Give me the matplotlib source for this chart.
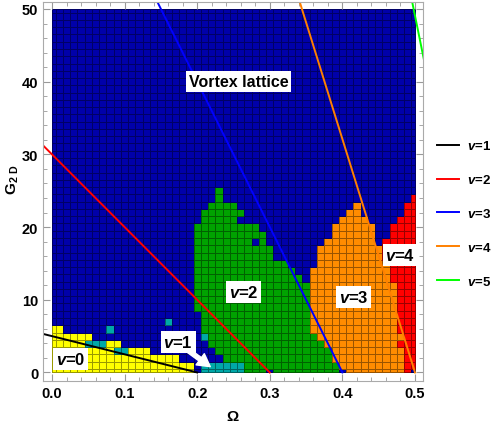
import numpy as np
import matplotlib.pyplot as plt
from matplotlib.colors import ListedColormap
from matplotlib.lines import Line2D

plt.rcParams['font.family'] = ['Liberation Sans', 'DejaVu Sans']
plt.rcParams['font.weight'] = 'bold'
plt.rcParams['mathtext.fontset'] = 'custom'
plt.rcParams['mathtext.rm'] = 'Liberation Sans:bold'
plt.rcParams['mathtext.bf'] = 'Liberation Sans:bold'
plt.rcParams['mathtext.it'] = 'Liberation Sans:bold:italic'

# grid of the scan
omega = np.round(np.arange(51) * 0.01, 2)
g2d = np.arange(51)

# phase at each grid point, rows G=0..25 (bottom up); everything above is vortex lattice
# B=vortex lattice, Y=v0, C=v1, G=v2, O=v3, R=v4
phase_rows = [
    "Y0-19 B20 C21-26 G27-29 B30 G31-39 B40 O41-48 R49 B50",
    "Y0-19 C21-26 G27-39 O40-48 R49-50",
    "Y0-17 G24-38 O39-48 R49-50",
    "Y0-8 C9-10 Y11-13 G23-38 O39-48 R49-50",
    "Y0-4 C5-7 Y8-9 G22-37 O38-47 R48-50",
    "Y0-5 C21 G22-36 O37-48 R49-50",
    "Y0-1 C8 G21-35 O36-47 R48-50",
    "C16 G21-35 O36-47 R48-50",
    "G21-35 O36-47 R48-50",
    "G20-35 O36-47 R48-50",
    "G20-35 O36-47 R48-50",
    "G20-35 O36-47 R48-50",
    "G20-35 O36-47 R48-50",
    "G20-34 O36-46 R47-50",
    "G20-33 O36-46 R47-50",
    "G20-32 O37-46 R47-50",
    "G20-30 O37-45 R46-50",
    "G20-30 O37-45 R46-50",
    "G20-27 G29 O38-44 R46-50",
    "G20-29 O39-44 R47-50",
    "G20-28 O39-44 R47-50",
    "G21-25 O40-43 R48-50",
    "G21-26 O41-42 R49-50",
    "G22-25 O42 R49-50",
    "G23 R50",
    "G23",
]
phase_codes = {'B': 0, 'Y': 1, 'C': 2, 'G': 3, 'O': 4, 'R': 5}
phase_colors = ['#0000AA', '#FFFF00', '#00A8A8', '#00A200', '#FF8C00', '#FF0000']

# critical lines for v=1..5, two end points each
line_labels = ['1', '2', '3', '4', '5']
line_colors = ['black', '#FF0000', '#0000FF', '#FF8000', '#00FF00']
line_omega = [[-0.02, 0.2], [-0.02, 0.3], [0.14, 0.4], [0.338, 0.5], [0.494, 0.6]]
line_g = [[5.5, 0], [32, 0], [52, 0], [52, 0], [52, 0]]

# text labels in the plot
region_text = ['Vortex lattice', '$v$=0', '$v$=1', '$v$=2', '$v$=3', '$v$=4']
region_omega = [0.257, 0.0255, 0.174, 0.264, 0.415, 0.48]
region_g = [40.0, 1.9, 4.2, 11.1, 10.4, 16.2]

phase = np.zeros((len(g2d), len(omega)), dtype=int)
for j, spec in enumerate(phase_rows):
    for seg in spec.split():
        a, _, b = seg[1:].partition('-')
        phase[j, int(a):int(b or a) + 1] = phase_codes[seg[0]]

dx = omega[1] - omega[0]
xe = np.clip(np.concatenate([omega - dx / 2, [omega[-1] + dx / 2]]), omega[0], omega[-1])
ye = np.clip(np.concatenate([g2d - 0.5, [g2d[-1] + 0.5]]), g2d[0], g2d[-1])

fig = plt.figure(figsize=(4.98, 4.27), dpi=100)
ax = fig.add_axes([43 / 498, 45 / 427, 380 / 498, 379 / 427])
ax.pcolormesh(xe, ye, phase, cmap=ListedColormap(phase_colors), vmin=-0.5, vmax=5.5,
              edgecolors=(0, 0, 0, 0.4), linewidth=0.5)

handles = []
for k in range(len(line_labels)):
    ax.plot(line_omega[k], line_g[k], color=line_colors[k], lw=1.4)
    handles.append(Line2D([], [], color=line_colors[k], lw=1.4, label='$v$=' + line_labels[k]))

ax.annotate('', xy=(0.218, 0.8), xytext=(0.188, 3.0), zorder=4,
            arrowprops=dict(facecolor='white', edgecolor='white', width=3, headwidth=10, headlength=9))
for t, x, y in zip(region_text, region_omega, region_g):
    ax.text(x, y, t, ha='center', va='center', fontsize=11.5 if t[0] == 'V' else 12, zorder=5,
            bbox=dict(facecolor='white', edgecolor='none', pad=2))

ax.set_xlim(-0.0124, 0.511)
ax.set_ylim(-1.17, 50.96)
ax.set_xticks(np.arange(0, 0.51, 0.1))
ax.set_xticks(np.arange(0, 0.51, 0.02), minor=True)
ax.set_yticks(np.arange(0, 51, 10))
ax.set_yticks(np.arange(0, 51, 2), minor=True)
ax.xaxis.set_major_formatter(plt.FormatStrFormatter('%.1f'))
for s in ax.spines.values():
    s.set_color('#AAAAAA')
ax.tick_params(which='both', direction='in', top=True, right=True, color='#999999',
               labelsize=10.5, labelcolor='black')
ax.tick_params(which='major', length=5)
ax.tick_params(which='minor', length=3)

fig.text(232.5 / 498, 1 - 417 / 427, r'$\Omega$', ha='center', va='center', fontsize=11)
fig.text(13 / 498, 1 - 180 / 427, r'$\mathrm{G}_{\mathrm{2\ D}}$', ha='center', va='center',
         rotation=90, fontsize=11)

fig.legend(handles=handles, loc='center left', bbox_to_anchor=(437 / 498, 1 - 214.5 / 427),
           frameon=False, fontsize=9.5, handlelength=1.7, handletextpad=0.6,
           labelspacing=1.58, borderpad=0, borderaxespad=0)

fig.savefig('out.png', dpi=100)
